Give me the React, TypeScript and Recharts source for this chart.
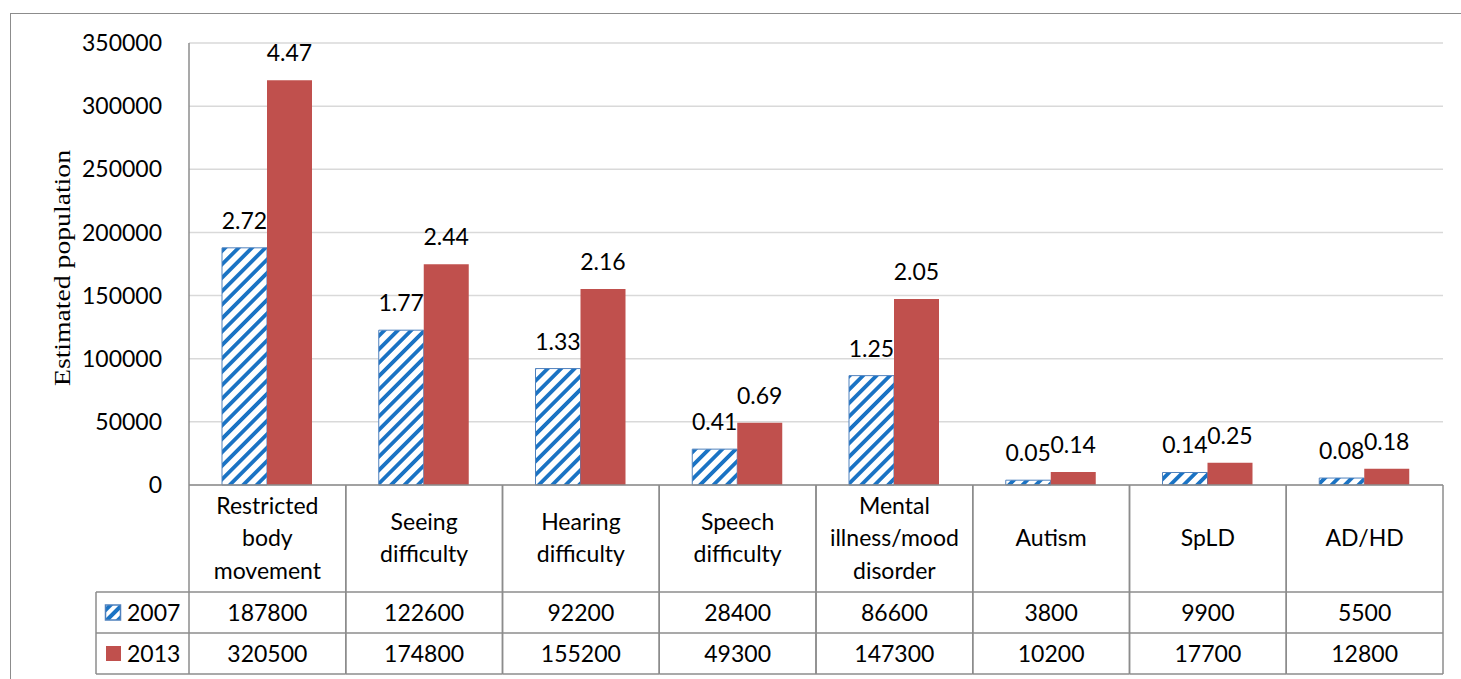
import React from 'react';
import { BarChart, Bar, XAxis, YAxis, CartesianGrid, LabelList, Label } from 'recharts';

const FONT = 'Lato, "Open Sans", sans-serif';
const SERIF = '"Liberation Serif", "DejaVu Serif", serif';
const LINE = '#8c8c8c';
const FS = 23;

const categories = [
  'Restricted body movement',
  'Seeing difficulty',
  'Hearing difficulty',
  'Speech difficulty',
  'Mental illness/mood disorder',
  'Autism',
  'SpLD',
  'AD/HD',
];
const categoryLines = [
  ['Restricted', 'body', 'movement'],
  ['Seeing', 'difficulty'],
  ['Hearing', 'difficulty'],
  ['Speech', 'difficulty'],
  ['Mental', 'illness/mood', 'disorder'],
  ['Autism'],
  ['SpLD'],
  ['AD/HD'],
];
const seriesNames = ['2007', '2013'];
const v2007 = [187800, 122600, 92200, 28400, 86600, 3800, 9900, 5500];
const v2013 = [320500, 174800, 155200, 49300, 147300, 10200, 17700, 12800];
const p2007 = [2.72, 1.77, 1.33, 0.41, 1.25, 0.05, 0.14, 0.08];
const p2013 = [4.47, 2.44, 2.16, 0.69, 2.05, 0.14, 0.25, 0.18];
const yTicks = [0, 50000, 100000, 150000, 200000, 250000, 300000, 350000];
const yTitle = 'Estimated population';

const data = categories.map((c, i) => ({
  name: c,
  y2007: v2007[i],
  y2013: v2013[i],
  p2007: p2007[i],
  p2013: p2013[i],
}));

const W = 1461;
const H = 679;
const PLOT_LEFT = 189;
const PLOT_RIGHT = 1443;
const PLOT_TOP = 43;
const PLOT_BOTTOM = 485;
const COL_W = (PLOT_RIGHT - PLOT_LEFT) / categories.length;
const LEGEND_W = 93;

const TableTick = (props: any) => {
  const { x, y, index } = props;
  const i = index;
  const lines = categoryLines[i] || [];
  const left = x - COL_W / 2;
  const right = x + COL_W / 2;
  const top = y;
  const r1 = y + 107;
  const r2 = y + 148;
  const r3 = y + 189;
  const cy = (top + r1) / 2 - 1.5;
  const lh = 32.5;
  const n = lines.length;
  const textStyle = { fontFamily: FONT, fontSize: FS, fill: '#000' };
  const ln = { stroke: LINE, strokeWidth: 1.5 };
  return (
    <g>
      <line x1={left} x2={left} y1={top} y2={r3} {...ln} />
      <line x1={right} x2={right} y1={top} y2={r3} {...ln} />
      <line x1={left} x2={right} y1={r1} y2={r1} {...ln} />
      <line x1={left} x2={right} y1={r2} y2={r2} {...ln} />
      <line x1={left} x2={right} y1={r3} y2={r3} {...ln} />
      {lines.map((l, k) => (
        <text
          key={k}
          x={x}
          y={cy + (k - (n - 1) / 2) * lh}
          textAnchor="middle"
          dominantBaseline="central"
          style={textStyle}
        >
          {l}
        </text>
      ))}
      <text x={x} y={(r1 + r2) / 2 - 1} textAnchor="middle" dominantBaseline="central" style={textStyle}>
        {v2007[i]}
      </text>
      <text x={x} y={(r2 + r3) / 2 - 1} textAnchor="middle" dominantBaseline="central" style={textStyle}>
        {v2013[i]}
      </text>
      {i === 0 && (
        <g>
          <line x1={left - LEGEND_W} x2={left - LEGEND_W} y1={r1} y2={r3} {...ln} />
          <line x1={left - LEGEND_W} x2={left} y1={r1} y2={r1} {...ln} />
          <line x1={left - LEGEND_W} x2={left} y1={r2} y2={r2} {...ln} />
          <line x1={left - LEGEND_W} x2={left} y1={r3} y2={r3} {...ln} />
          <rect
            x={left - LEGEND_W + 9.5}
            y={(r1 + r2) / 2 - 7.5}
            width={15}
            height={15}
            fill="url(#hatchIcon)"
            stroke="#4F81BD"
            strokeWidth={1.5}
          />
          <text x={left - LEGEND_W + 31} y={(r1 + r2) / 2 - 1} dominantBaseline="central" style={textStyle}>
            {seriesNames[0]}
          </text>
          <rect x={left - LEGEND_W + 10} y={(r2 + r3) / 2 - 7.5} width={15} height={15} fill="#C0504D" />
          <text x={left - LEGEND_W + 31} y={(r2 + r3) / 2 - 1} dominantBaseline="central" style={textStyle}>
            {seriesNames[1]}
          </text>
        </g>
      )}
    </g>
  );
};

const YTitle = (props: any) => {
  const vb = props.viewBox || { x: 0, y: PLOT_TOP, height: PLOT_BOTTOM - PLOT_TOP };
  const cx = (vb.x || 0) + 62;
  const cy = vb.y + vb.height / 2 + 4;
  return (
    <text
      x={cx}
      y={cy}
      transform={`rotate(-90 ${cx} ${cy})`}
      textAnchor="middle"
      dominantBaseline="central"
      style={{ fontFamily: SERIF, fontSize: 24, fill: '#000' }}
      textLength={236}
      lengthAdjust="spacingAndGlyphs"
    >
      {yTitle}
    </text>
  );
};

const fmt = (v: any) => Number(v).toFixed(2);

export default function App() {
  return (
    <div style={{ position: 'absolute', left: 0, top: 0, width: W, height: H, background: '#fff' }}>
      <div
        style={{
          position: 'absolute',
          left: 10,
          top: 13,
          width: 1460,
          height: 700,
          border: `1.5px solid ${LINE}`,
          boxSizing: 'border-box',
        }}
      />
      <div style={{ position: 'absolute', left: 0, top: 0 }}>
        <BarChart
          width={W}
          height={H}
          data={data}
          margin={{ top: PLOT_TOP, right: W - PLOT_RIGHT, bottom: 0, left: 0 }}
          barSize={45}
          barGap={0}
        >
          <defs>
            <pattern
              id="hatch"
              patternUnits="userSpaceOnUse"
              width="9.5"
              height="9.5"
              patternTransform="rotate(45)"
            >
              <rect width="9.5" height="9.5" fill="#fff" />
              <rect x="0" y="0" width="3.8" height="9.5" fill="#1a73c4" />
            </pattern>
            <pattern
              id="hatchIcon"
              patternUnits="userSpaceOnUse"
              width="8"
              height="8"
              patternTransform="rotate(45)"
            >
              <rect width="8" height="8" fill="#fff" />
              <rect x="0" y="0" width="4" height="8" fill="#1a73c4" />
            </pattern>
          </defs>
          <CartesianGrid vertical={false} stroke="#d9d9d9" strokeWidth={1.5} />
          <XAxis
            dataKey="name"
            interval={0}
            height={H - PLOT_BOTTOM}
            tickLine={false}
            tickSize={0}
            tickMargin={0}
            axisLine={{ stroke: LINE, strokeWidth: 1.5 }}
            tick={<TableTick />}
          />
          <YAxis
            width={PLOT_LEFT}
            domain={[0, 350000]}
            ticks={yTicks}
            interval={0}
            tickLine={false}
            tickSize={0}
            tickMargin={27}
            axisLine={{ stroke: LINE, strokeWidth: 1.5 }}
            tick={{ fontFamily: FONT, fontSize: FS, fill: '#000' }}
          >
            <Label content={<YTitle />} />
          </YAxis>
          <Bar dataKey="y2007" fill="url(#hatch)" stroke="#4F81BD" strokeWidth={1} isAnimationActive={false}>
            <LabelList
              dataKey="p2007"
              position="top"
              offset={19}
              formatter={fmt}
              style={{ fontFamily: FONT, fontSize: FS, fill: '#000' }}
            />
          </Bar>
          <Bar dataKey="y2013" fill="#C0504D" isAnimationActive={false}>
            <LabelList
              dataKey="p2013"
              position="top"
              offset={19}
              formatter={fmt}
              style={{ fontFamily: FONT, fontSize: FS, fill: '#000' }}
            />
          </Bar>
        </BarChart>
      </div>
    </div>
  );
}
